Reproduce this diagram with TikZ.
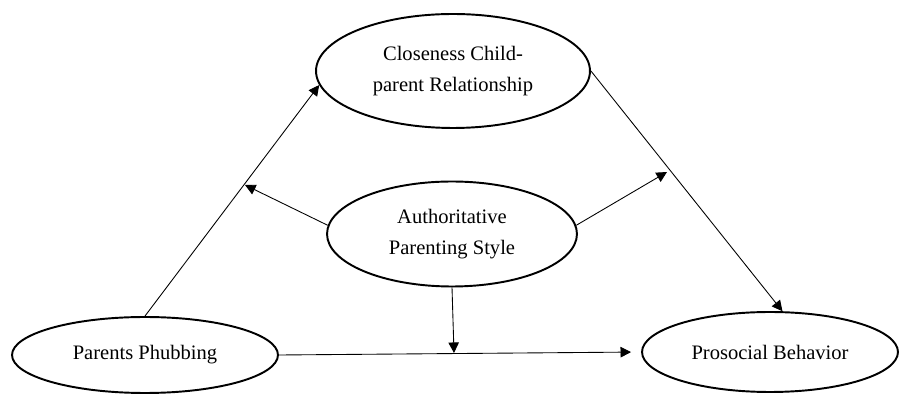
\documentclass[tikz,border=0pt]{standalone}
\usepackage{fontspec}
\setmainfont{Liberation Serif}
\usetikzlibrary{shapes.geometric,arrows.meta}

\begin{document}
\begin{tikzpicture}[x=0.02cm, y=-0.02cm, >={Triangle[length=6pt,width=6pt]},
oval/.style = {ellipse, draw=black, line width=1.1pt, inner sep=0pt, align=center,
  font=\fontsize{11.7}{18}\selectfont}]
\useasboundingbox (0,0) rectangle (899,394);
\node[oval, minimum width=5.48cm, minimum height=2.28cm] at (453,71) (cl) {Closeness Child-\\parent Relationship};
\node[oval, minimum width=5.0cm, minimum height=2.1cm] at (452,234) (ap) {Authoritative\\Parenting Style};
\node[oval, minimum width=5.32cm, minimum height=1.52cm] at (145,355) (pp) {Parents Phubbing};
\node[oval, minimum width=5.12cm, minimum height=1.6cm] at (770,352) (pb) {Prosocial Behavior};
\coordinate (m1) at (245,185);
\coordinate (m2) at (667,172);
\coordinate (m3) at (454,353);
\draw [->] (pp.north) [line width=0.5pt] -- (cl.186);
\draw [->] (cl.east) [line width=0.5pt] -- (pb.73);
\draw [->] (pp.east) [line width=0.5pt, shorten >=0.2cm] -- (pb.west);
\draw [->] (ap.176) [line width=0.5pt] -- (m1);
\draw [->] (ap.4) [line width=0.5pt] -- (m2);
\draw [->] (ap.south) [line width=0.5pt] -- (m3);
\end{tikzpicture}
\end{document}
